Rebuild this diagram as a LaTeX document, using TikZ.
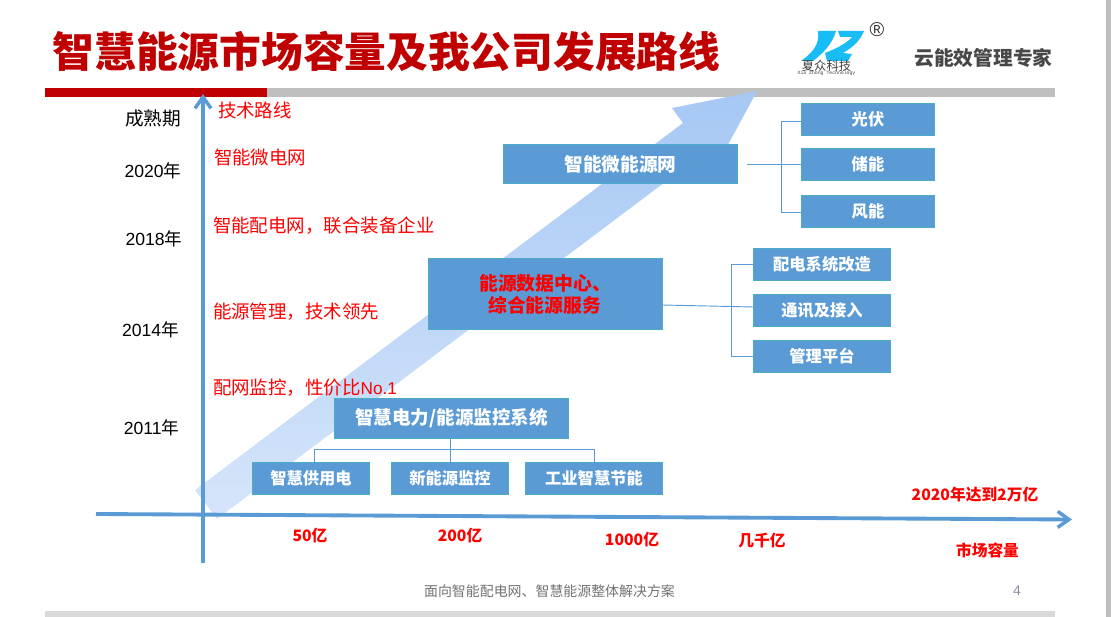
\documentclass[tikz,border=0pt]{standalone}
\usepackage{fontspec}
\setmainfont{Liberation Sans}
\newfontfamily\cjk{Noto Sans CJK SC}
\newfontfamily\latinmono{Liberation Mono}
\usetikzlibrary{arrows.meta}
\definecolor{boxblue}{HTML}{5B9BD5}
\definecolor{boxedge}{HTML}{4BACC6}
\definecolor{titlered}{HTML}{C00000}
\definecolor{barA}{HTML}{BFBFBF}
\definecolor{barB}{HTML}{D9D9D9}
\definecolor{logocyan}{HTML}{19BDF5}
\definecolor{bandA}{HTML}{D6E5FA}
\definecolor{bandB}{HTML}{A6C8F4}
\definecolor{pagegrey}{HTML}{8C8CA0}
\newcommand{\fsz}[1]{\fontsize{#1}{#1}\selectfont}
\tikzset{
  every node/.style={inner sep=0pt,outer sep=0pt},
  pxbox/.style 2 args={draw=boxedge,line width=0.5pt,fill=boxblue,text=white,font=\cjk\bfseries\fsz{12.2},minimum width=#1*0.75pt,minimum height=#2*0.75pt},
  axisline/.style={draw=boxblue,line width=2.9pt,-{Straight Barb[length=8.5pt,width=12pt,line width=2.6pt]}},
  link/.style={draw=boxblue,line width=0.7pt},
  year/.style={font=\fsz{13.2},text=black},
  tech/.style={anchor=west,font=\cjk\fsz{13.85},text=red},
  market/.style={font=\cjk\bfseries\fsz{11.8},text=red}
}
\begin{document}
\begin{tikzpicture}[x=0.75pt,y=-0.75pt]
\useasboundingbox (0,0) rectangle (1111,617);
\fill[white] (0,0) rectangle (1111,617);
% frame bars
\fill[barA] (267,88) rectangle (1055,97);
\fill[titlered] (45,88) rectangle (267,97);
\fill[barA] (1106,0) rectangle (1111,617);
\fill[barB] (45,611) rectangle (1055,617);
% title
\node[anchor=center,font=\cjk\bfseries\fsz{31.3},text=titlered] (title) at (386.5,52) {智慧能源市场容量及我公司发展路线};
% logo
\fill[logocyan] (818,31) -- (836,31) .. controls (832,45) and (822,54) .. (813,61) -- (801,61) .. controls (812,53) and (820,45) .. (818,31) -- cycle;
\fill[logocyan] (838,31) -- (864,31) .. controls (860,40) and (855,46) .. (843,53) -- (852,54) -- (848,61) -- (827,61) -- (825,53) .. controls (835,49) and (846,44) .. (852,37) -- (840,37) -- cycle;
\node[font=\cjk\fsz{9.2},text=black!75] (logocn) at (826.5,65.5) {夏众科技};
\node[font=\latinmono\fsz{3.6},text=black!75] (logoen) at (826.5,73.2) {Xia Zhong Technology};
\node[font=\fsz{15},text=black!80] (reg) at (877,30) {®};
\node[font=\cjk\bfseries\fsz{14.8},text=black!72] (slogan) at (983.5,58) {云能效管理专家};
% big arrow
\shade[bottom color=bandA,top color=bandB,middle color=bandB!50!bandA]
 (195,490) -- (683,123) -- (672,108) -- (757,91) -- (716,167) -- (705,152) -- (217,519) -- cycle;
% axes
\coordinate (vb) at (203,563);
\coordinate (vt) at (203,94);
\coordinate (hl) at (96,514);
\coordinate (hr) at (1072,519.5);
\draw[axisline] (vb) -- (vt);
\draw[axisline] (hl) -- (hr);
% years
\node[year,font=\fsz{14}] (y0) at (153,118) {\cjk 成熟期};
\node[year] (y1) at (153,170.5) {2020\cjk 年};
\node[year] (y2) at (154,238.5) {2018\cjk 年};
\node[year] (y3) at (150.5,329.5) {2014\cjk 年};
\node[year] (y4) at (151.5,427.5) {2011\cjk 年};
% technology route
\node[tech] (t0) at (218,110) {技术路线};
\node[tech] (t1) at (214,157.5) {智能微电网};
\node[tech] (t2) at (213,226) {智能配电网，联合装备企业};
\node[tech] (t3) at (213,312) {能源管理，技术领先};
\node[tech] (t4) at (213,388) {配网监控，性价比{\rmfamily\fsz{12.9}No.1}};
% boxes: top group
\node[pxbox={234}{39.5},font=\cjk\bfseries\fsz{14}] (micro) at (620.5,164) {智能微能源网};
\node[pxbox={133}{32}] (pv) at (868,119) {光伏};
\node[pxbox={133}{32}] (store) at (868,164) {储能};
\node[pxbox={133}{32}] (wind) at (868,211) {风能};
\coordinate (trunkA) at (781.5,164);
\draw[link] ([xshift=6.75pt]micro.east) -- (store.west);
\draw[link] ([yshift=-1.7pt]pv.west) -- ([yshift=-1.7pt]trunkA |- pv.west) -- ([yshift=-1pt]trunkA |- wind.west) -- ([yshift=-1pt]wind.west);
% boxes: middle group
\node[pxbox={234}{71.5}] (data) at (545.5,294) {};
\node[anchor=center,font=\cjk\bfseries\fsz{14.1},text=red,align=left] (datatext) at (545,294) {能源数据中心、\\[2.2pt]\hspace{6.8pt}综合能源服务};
\node[pxbox={137}{32}] (cfg) at (822,264) {配电系统改造};
\node[pxbox={137}{32}] (comm) at (822,310) {通讯及接入};
\node[pxbox={137}{32}] (plat) at (822,356) {管理平台};
\coordinate (trunkB) at (731,310);
\draw[link] ([yshift=-8.25pt]data.east) -- ([yshift=2.25pt]comm.west);
\draw[link] (cfg.west) -- (trunkB |- cfg.west) -- (trunkB |- plat.west) -- (plat.west);
% boxes: bottom group
\node[pxbox={234}{40.5},font=\cjk\bfseries\fsz{13.9}] (sys) at (451.5,418.5) {智慧电力/能源监控系统};
\node[pxbox={117}{32.5}] (sup) at (311,478.5) {智慧供用电};
\node[pxbox={117}{32.5}] (new) at (450,478.5) {新能源监控};
\node[pxbox={137}{32.5}] (ind) at (594,478.5) {工业智慧节能};
\coordinate (busB) at (450,449.5);
\draw[link] (new.north) -- (new.north |- sys.south);
\draw[link] ([xshift=2.6pt]sup.north) -- ([xshift=2.6pt]sup.north |- busB) -- (ind.north |- busB) -- (ind.north);
% market labels
\node[market] (m1) at (310,536) {50亿};
\node[market] (m2) at (460,536) {200亿};
\node[market] (m3) at (632,540) {1000亿};
\node[market] (m4) at (762,541) {几千亿};
\node[market] (m5) at (975,495) {2020年达到2万亿};
\node[market] (m6) at (987.5,550) {市场容量};
% footer
\node[font=\cjk\fsz{10.45},text=black!55] (foot) at (549.5,591) {面向智能配电网、智慧能源整体解决方案};
\node[font=\fsz{10.5},text=pagegrey] (page) at (1017,591) {4};
\end{tikzpicture}
\end{document}
